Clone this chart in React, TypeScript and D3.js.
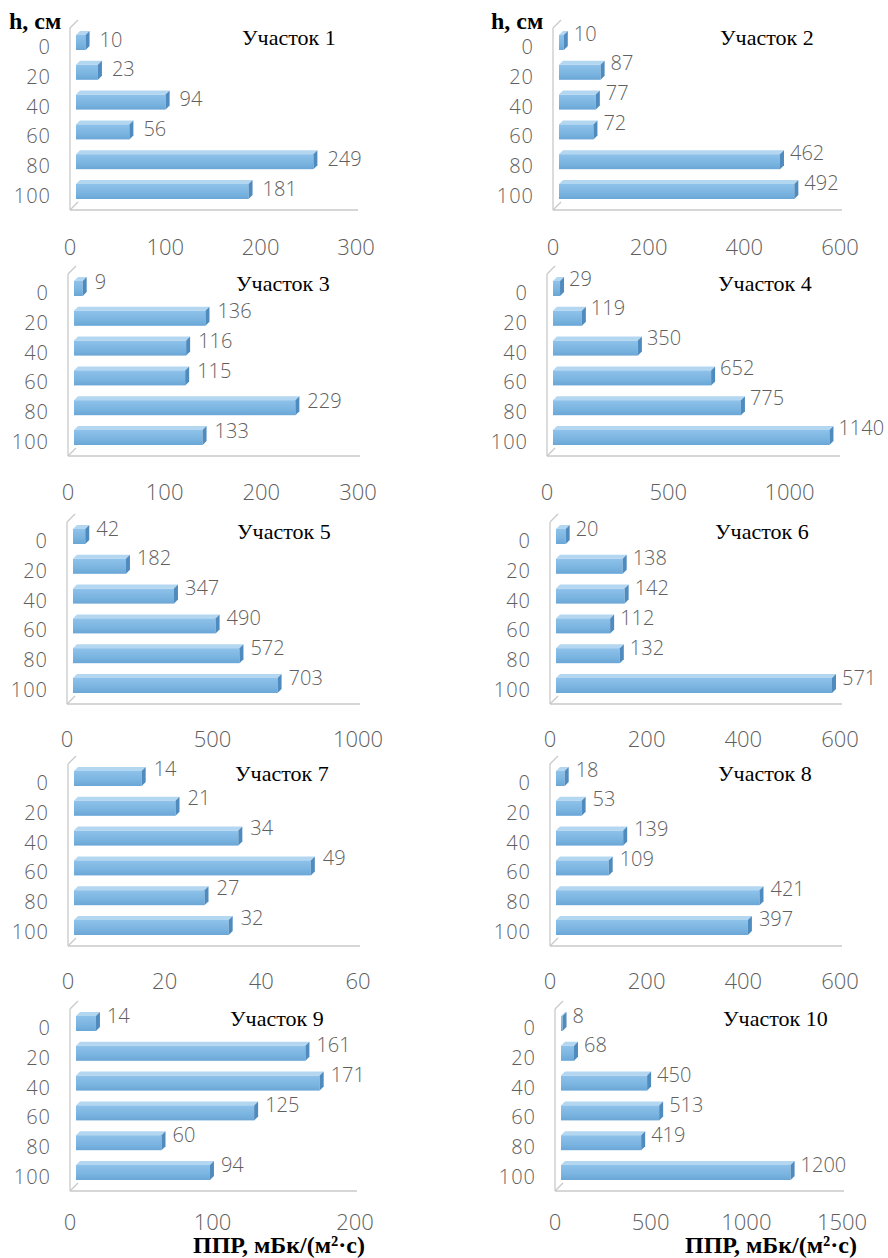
import React from "react";
import * as d3 from "d3";

const heights = ["0", "20", "40", "60", "80", "100"];

const site1 = [10, 23, 94, 56, 249, 181];
const site2 = [10, 87, 77, 72, 462, 492];
const site3 = [9, 136, 116, 115, 229, 133];
const site4 = [29, 119, 350, 652, 775, 1140];
const site5 = [42, 182, 347, 490, 572, 703];
const site6 = [20, 138, 142, 112, 132, 571];
const site7 = [14, 21, 34, 49, 27, 32];
const site8 = [18, 53, 139, 109, 421, 397];
const site9 = [14, 161, 171, 125, 60, 94];
const site10 = [8, 68, 450, 513, 419, 1200];

const siteTitles = [
  "Участок 1", "Участок 2", "Участок 3", "Участок 4", "Участок 5",
  "Участок 6", "Участок 7", "Участок 8", "Участок 9", "Участок 10",
];
const siteValues = [site1, site2, site3, site4, site5, site6, site7, site8, site9, site10];
const axisMax = [300, 600, 300, 1200, 1000, 600, 60, 600, 200, 1500];
const axisStep = [100, 200, 100, 500, 500, 200, 20, 200, 100, 500];

const yAxisTitle = "h, см";
const xAxisTitle = "ППР, мБк/(м²·с)";

// layout
const rowOffsets = [0, 246, 494, 736, 981];
const tickDrop = [45, 44, 43, 43, 39];
const panelX0 = [70, 553, 68, 547, 67, 550, 68, 550, 70, 555];
const panelRange = [286, 287, 290, 291, 291, 290, 290, 290, 285, 287];
const labelLift = [1, 7, 5, 8, 6, 6, 8, 7, 6, 6];
const labelGap = [10, 6, 8, 5, 7, 6, 8, 7, 7, 6];
const titleX = [242, 720, 236, 718, 237, 715, 235, 718, 230, 723];

const GRAY = "#5f5f5f";
const DIGIT_FONT = "'Open Sans', 'Liberation Sans', sans-serif";
const SERIF = "'Liberation Serif', serif";

const DEPTH_X = 4;
const DEPTH_Y = 4;
const BAR_H = 19;

function Panel({ idx }: { idx: number }) {
  const row = Math.floor(idx / 2);
  const col = idx % 2;
  const off = rowOffsets[row];
  const x0 = panelX0[idx];
  const values = siteValues[idx];
  const xs = d3.scaleLinear().domain([0, axisMax[idx]]).range([x0, x0 + panelRange[idx]]);
  const ys = d3
    .scaleBand<string>()
    .domain(heights)
    .range([31 + off, 31 + off + 29.8 * heights.length])
    .paddingInner(0)
    .paddingOuter(0);
  const ticks = d3.range(0, axisMax[idx] + 1e-9, axisStep[idx]);
  const floorY = 210 + off;
  const wallTop = 28 + off;
  const barStart = x0 + 6;

  return (
    <g>
      {/* 3D frame */}
      <g stroke="#c9c9c9" strokeWidth={1.3} fill="none">
        <line x1={x0} y1={wallTop} x2={x0} y2={floorY} />
        <line x1={x0} y1={wallTop} x2={x0 + 8} y2={wallTop - 8} />
        <line x1={x0} y1={floorY} x2={x0 + 8} y2={floorY - 8} />
        <line x1={x0} y1={floorY} x2={xs(axisMax[idx]) + 2} y2={floorY} />
      </g>
      {/* bars */}
      {values.map((v, i) => {
        const top = ys(heights[i])!;
        const xe = barStart + (xs(v) - xs(0));
        const fy0 = top + DEPTH_Y;
        const fy1 = top + BAR_H;
        return (
          <g key={i}>
            <path
              d={`M${barStart},${fy0}L${barStart + DEPTH_X},${top}L${xe + DEPTH_X},${top}L${xe},${fy0}Z`}
              fill="#b3d6f1"
            />
            <rect x={barStart} y={fy0} width={Math.max(0, xe - barStart)} height={fy1 - fy0} fill="url(#barGrad)" />
            <path
              d={`M${xe},${fy0}L${xe + DEPTH_X},${top}L${xe + DEPTH_X},${fy1 - DEPTH_Y}L${xe},${fy1}Z`}
              fill="#4f8bbf"
            />
          </g>
        );
      })}
      {/* value labels */}
      {values.map((v, i) => {
        const top = ys(heights[i])!;
        const xe = barStart + (xs(v) - xs(0)) + DEPTH_X;
        return (
          <text
            key={"v" + i}
            x={xe + labelGap[idx]}
            y={top + BAR_H / 2 + 7 - labelLift[idx]}
            fontSize={20}
            fill={GRAY}
            fontFamily={DIGIT_FONT}
            fontWeight={300}
          >
            {v}
          </text>
        );
      })}
      {/* category labels */}
      {heights.map((h) => (
        <text
          key={"c" + h}
          x={x0 - 19}
          y={ys(h)! + 23}
          textAnchor="end"
          fontSize={20}
          fill={GRAY}
          fontFamily={DIGIT_FONT}
          fontWeight={300}
          letterSpacing={1}
        >
          {h}
        </text>
      ))}
      {/* x ticks */}
      {ticks.map((t) => (
        <text
          key={"t" + t}
          x={xs(t)}
          y={floorY + tickDrop[row]}
          textAnchor="middle"
          fontSize={22}
          fill={GRAY}
          fontFamily={DIGIT_FONT}
          fontWeight={300}
        >
          {t}
        </text>
      ))}
      {/* title */}
      <text x={titleX[idx]} y={off + 45} fontSize={22} fontWeight="normal" fontFamily={SERIF} fill="#000">
        {siteTitles[idx]}
      </text>
      {row === 0 && (
        <text x={col === 0 ? 9 : 491} y={29} fontSize={24} fontWeight="bold" fontFamily={SERIF} fill="#000">
          {yAxisTitle}
        </text>
      )}
      {row === 4 && (
        <text x={col === 0 ? 193 : 685} y={1253} fontSize={24} fontWeight="bold" fontFamily={SERIF} fill="#000">
          {xAxisTitle}
        </text>
      )}
    </g>
  );
}

export default function App() {
  return (
    <svg
      width={888}
      height={1258}
      style={{ position: "absolute", left: 0, top: 0, background: "#fff" }}
    >
      <defs>
        <linearGradient id="barGrad" x1="0" y1="0" x2="0" y2="1">
          <stop offset="0%" stopColor="#8ec2ea" />
          <stop offset="60%" stopColor="#7ab4e0" />
          <stop offset="100%" stopColor="#6aa6d6" />
        </linearGradient>
      </defs>
      <rect width={888} height={1258} fill="#fff" />
      {siteValues.map((_, i) => (
        <Panel key={i} idx={i} />
      ))}
    </svg>
  );
}
